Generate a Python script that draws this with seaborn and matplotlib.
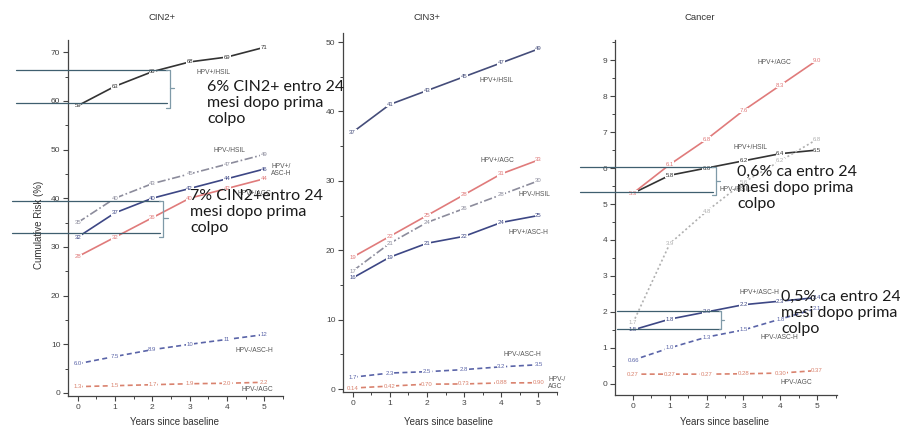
import numpy as np
import pandas as pd
import matplotlib
matplotlib.use("Agg")
import matplotlib.pyplot as plt
import seaborn as sns

# ---------------- data ----------------
years = [0, 1, 2, 3, 4, 5]
groups = ["HPV+/HSIL", "HPV-/HSIL", "HPV+/ASC-H", "HPV+/AGC", "HPV-/ASC-H", "HPV-/AGC"]

# CIN2+
cin2_pos_hsil = [59, 63, 66, 68, 69, 71]
cin2_neg_hsil = [35, 40, 43, 45, 47, 49]
cin2_pos_asch = [32, 37, 40, 42, 44, 46]
cin2_pos_agc = [28, 32, 36, 40, 42, 44]
cin2_neg_asch = [6.0, 7.5, 8.9, 10, 11, 12]
cin2_neg_agc = [1.3, 1.5, 1.7, 1.9, 2.0, 2.2]

# CIN3+
cin3_pos_hsil = [37, 41, 43, 45, 47, 49]
cin3_neg_hsil = [17, 21, 24, 26, 28, 30]
cin3_pos_asch = [16, 19, 21, 22, 24, 25]
cin3_pos_agc = [19, 22, 25, 28, 31, 33]
cin3_neg_asch = [1.7, 2.3, 2.5, 2.8, 3.2, 3.5]
cin3_neg_agc = [0.14, 0.42, 0.70, 0.73, 0.88, 0.90]

# Cancer
canc_pos_hsil = [5.3, 5.8, 6.0, 6.2, 6.4, 6.5]
canc_neg_hsil = [1.7, 3.9, 4.8, 5.6, 6.2, 6.8]
canc_pos_asch = [1.5, 1.8, 2.0, 2.2, 2.3, 2.4]
canc_pos_agc = [5.3, 6.1, 6.8, 7.6, 8.3, 9.0]
canc_neg_asch = [0.66, 1.0, 1.3, 1.5, 1.8, 2.1]
canc_neg_agc = [0.27, 0.27, 0.27, 0.28, 0.30, 0.37]

panel_titles = ["CIN2+", "CIN3+", "Cancer"]
x_label = "Years since baseline"
y_label = "Cumulative Risk (%)"

# ---------------- styling ----------------
sns.set_theme(style="ticks")
plt.rcParams["font.family"] = ["Liberation Sans", "DejaVu Sans"]

fig = plt.figure(figsize=(9, 4.3), dpi=100)
W, H = 900, 430


def rect(l, r, t, b):
    return [l / W, (H - b) / H, (r - l) / W, (b - t) / H]


panels = [
    dict(title=panel_titles[0], data=[cin2_pos_hsil, cin2_neg_hsil, cin2_pos_asch, cin2_pos_agc, cin2_neg_asch, cin2_neg_agc],
         rect=rect(68, 283, 40, 396), xlim=(-0.26, 5.34), ylim=(-0.62, 72.5), major=10, minor=5,
         hsil_col="#333333", neg_hsil_col="#8c8c9c", neg_hsil_dash=(5, 1.5, 1, 1.5), title_x=162),
    dict(title=panel_titles[1], data=[cin3_pos_hsil, cin3_neg_hsil, cin3_pos_asch, cin3_pos_agc, cin3_neg_asch, cin3_neg_agc],
         rect=rect(343, 557, 33, 392), xlim=(-0.26, 5.4), ylim=(-0.43, 51.3), major=10, minor=5,
         hsil_col="#454d7a", neg_hsil_col="#8c8c9c", neg_hsil_dash=(5, 1.5, 1, 1.5), title_x=427),
    dict(title=panel_titles[2], data=[canc_pos_hsil, canc_neg_hsil, canc_pos_asch, canc_pos_agc, canc_neg_asch, canc_neg_agc],
         rect=rect(615, 837, 40, 395), xlim=(-0.49, 5.54), ylim=(-0.31, 9.56), major=1, minor=0.5,
         hsil_col="#333333", neg_hsil_col="#b0b0b0", neg_hsil_dash=(1.2, 1.5), title_x=700),
]

asch_col = "#3d4785"
agc_col = "#e07b7b"
neg_asch_col = "#5a64a8"
neg_agc_col = "#d9826e"


def fmt(v):
    if v < 1:
        return f"{v:.2f}"
    if v < 10:
        return f"{v:.1f}"
    return f"{v:.0f}"


axes = []
for p in panels:
    ax = fig.add_axes(p["rect"])
    axes.append(ax)
    rows = []
    for g, vals in zip(groups, p["data"]):
        for yr, v in zip(years, vals):
            rows.append(dict(year=yr, risk=v, group=g))
    df = pd.DataFrame(rows)
    pal = {groups[0]: p["hsil_col"], groups[1]: p["neg_hsil_col"], groups[2]: asch_col,
           groups[3]: agc_col, groups[4]: neg_asch_col, groups[5]: neg_agc_col}
    dashes = {groups[0]: "", groups[1]: p["neg_hsil_dash"], groups[2]: "", groups[3]: "",
              groups[4]: (3, 2), groups[5]: (3, 2)}
    sns.lineplot(data=df, x="year", y="risk", hue="group", style="group", palette=pal,
                 dashes=dashes, legend=False, ax=ax, linewidth=1.2, errorbar=None)
    for g, vals in zip(groups, p["data"]):
        for yr, v in zip(years, vals):
            ax.text(yr, v, fmt(v), fontsize=4.3, color=pal[g], ha="center", va="center",
                    bbox=dict(boxstyle="square,pad=0.08", fc="white", ec="none"), zorder=5)
    ax.set_xlim(*p["xlim"])
    ax.set_ylim(*p["ylim"])
    ax.set_xticks(years)
    ax.set_xticks(np.arange(0, 5.6, 0.5), minor=True)
    top = p["ylim"][1]
    ax.set_yticks(np.arange(0, top, p["major"]))
    ax.set_yticks(np.arange(0, top, p["minor"]), minor=True)
    ax.tick_params(axis="both", which="major", direction="out", length=3.5, width=0.8,
                   labelsize=6, colors="#444444", pad=2)
    ax.tick_params(axis="both", which="minor", direction="out", length=2, width=0.7, colors="#444444")
    for s in ["top", "right"]:
        ax.spines[s].set_visible(False)
    for s in ["left", "bottom"]:
        ax.spines[s].set_color("#444444")
        ax.spines[s].set_linewidth(0.9)
    ax.set_xlabel("")
    ax.set_ylabel("")
    fig.text(p["title_x"] / W, 1 - 18 / H, p["title"], fontsize=6.8, color="#333333", ha="center", va="center")

for cx in [175, 448, 725]:
    fig.text(cx / W, 1 - 422 / H, x_label, fontsize=7, color="#333333", ha="center", va="center")
fig.text(39 / W, 1 - 225 / H, y_label, fontsize=7, color="#333333", ha="center", va="center", rotation=90)

# series name labels
name_kw = dict(fontsize=4.8, color="#555555", ha="left", va="center", zorder=6)
ax1, ax2, ax3 = axes
ax1.text(3.18, 65.9, groups[0], **name_kw)
ax1.text(3.65, 49.9, groups[1], **name_kw)
ax1.text(5.18, 45.8, "HPV+/\nASC-H", fontsize=4.8, color="#555555", ha="left", va="center",
         linespacing=1.0, clip_on=False)
ax1.text(4.27, 41.0, groups[3], **name_kw)
ax1.text(4.22, 8.8, groups[4], **name_kw)
ax1.text(4.40, 0.8, groups[5], **name_kw)

ax2.text(3.41, 44.5, groups[0], **name_kw)
ax2.text(3.44, 32.9, groups[3], **name_kw)
ax2.text(4.47, 28.0, groups[1], **name_kw)
ax2.text(4.20, 22.6, groups[2], **name_kw)
ax2.text(4.07, 5.0, groups[4], **name_kw)
ax2.text(5.27, 0.9, "HPV-/\nAGC", fontsize=4.8, color="#555555", ha="left", va="center",
         linespacing=1.1, clip_on=False)

ax3.text(3.37, 8.94, groups[3], **name_kw)
ax3.text(2.72, 6.58, groups[0], **name_kw)
ax3.text(2.36, 5.40, groups[1], **name_kw)
ax3.text(2.90, 2.55, groups[2], **name_kw)
ax3.text(3.45, 1.30, groups[4], **name_kw)
ax3.text(4.00, 0.05, groups[5], **name_kw)

# annotation brackets
ann_col = "#3f5f6f"
br_col = "#7f9aa8"


def bracket(ax, x0, x1, ytop, ybot, bx, ybr_bot, ymid, mid_dx, hook):
    ax.plot([x0, x1], [ytop, ytop], color=ann_col, lw=0.9, clip_on=False, zorder=7)
    ax.plot([x0, x1], [ybot, ybot], color=ann_col, lw=0.9, clip_on=False, zorder=7)
    ax.plot([bx - hook, bx, bx, bx - hook], [ytop, ytop, ybr_bot, ybr_bot], color=br_col, lw=0.9,
            clip_on=False, zorder=7)
    ax.plot([bx, bx + mid_dx], [ymid, ymid], color=br_col, lw=0.9, clip_on=False, zorder=7)


bracket(ax1, -1.64, 2.40, 66.3, 59.6, 2.47, 58.5, 62.6, 0.12, 0.1)
bracket(ax1, -1.77, 2.21, 39.4, 32.9, 2.29, 32.0, 36.0, 0.12, 0.1)
bracket(ax3, -1.44, 2.17, 6.03, 5.33, 2.24, 5.25, 5.64, 0.12, 0.1)
bracket(ax3, -0.43, 2.36, 2.02, 1.53, 2.38, 1.53, 1.78, 0.10, 0.05)

ann_kw = dict(fontsize=11.5, color="#1a1a1a", ha="left", va="top", linespacing=1.2,
              family=["Lato", "DejaVu Sans"], zorder=10)
fig.text(207 / W, 1 - 80 / H, "6% CIN2+ entro 24\nmesi dopo prima\ncolpo", **ann_kw)
fig.text(190 / W, 1 - 189 / H, "7% CIN2+entro 24\nmesi dopo prima\ncolpo", **ann_kw)
fig.text(737 / W, 1 - 165 / H, "0,6% ca entro 24\nmesi dopo prima\ncolpo", **ann_kw)
fig.text(781 / W, 1 - 290 / H, "0,5% ca entro 24\nmesi dopo prima\ncolpo", **ann_kw)

fig.savefig("out.png", dpi=100, facecolor="white")
